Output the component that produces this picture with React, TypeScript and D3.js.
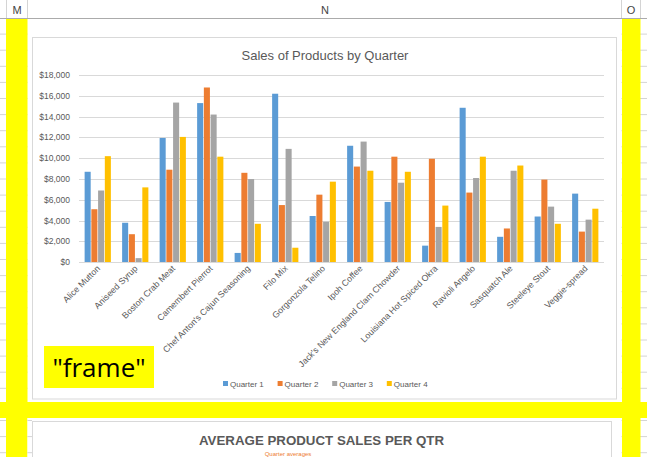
import React from "react";
import * as d3 from "d3";

const categories = [
  "Alice Mutton",
  "Aniseed Syrup",
  "Boston Crab Meat",
  "Camembert Pierrot",
  "Chef Anton's Cajun Seasoning",
  "Filo Mix",
  "Gorgonzola Telino",
  "Ipoh Coffee",
  "Jack's New England Clam Chowder",
  "Louisiana Hot Spiced Okra",
  "Ravioli Angelo",
  "Sasquatch Ale",
  "Steeleye Stout",
  "Veggie-spread",
];
const seriesNames = ["Quarter 1", "Quarter 2", "Quarter 3", "Quarter 4"];
const quarter1 = [8700, 3800, 11950, 15300, 900, 16200, 4450, 11200, 5800, 1600, 14850, 2450, 4400, 6600];
const quarter2 = [5100, 2700, 8900, 16800, 8600, 5500, 6500, 9200, 10150, 9950, 6700, 3250, 7950, 2950];
const quarter3 = [6900, 400, 15350, 14200, 8000, 10900, 3900, 11600, 7650, 3400, 8100, 8800, 5350, 4100];
const quarter4 = [10200, 7200, 12050, 10150, 3700, 1400, 7750, 8800, 8700, 5450, 10150, 9300, 3700, 5150];
const seriesValues = [quarter1, quarter2, quarter3, quarter4];
const yTicks = [0, 2000, 4000, 6000, 8000, 10000, 12000, 14000, 16000, 18000];
const colors = ["#5b9bd5", "#ed7d31", "#a5a5a5", "#ffc000"];

const W = 647;
const H = 457;
const FONT = "'Liberation Sans', Arial, sans-serif";

export default function App() {
  const x0 = d3.scaleBand<string>().domain(categories).range([79, 604]).paddingInner(0.3).paddingOuter(0.15);
  const x1 = d3.scaleBand<string>().domain(seriesNames).range([0, x0.bandwidth()]).paddingInner(0.1);
  const y = d3.scaleLinear().domain([0, 18000]).range([262.3, 75]);
  const fmt = d3.format("$,");

  const rowLines = d3.range(1, 28).map((k) => 18 + 16.1 * k);

  return (
    <svg width={W} height={H} style={{ position: "absolute", left: 0, top: 0, background: "#fff" }}>
      {/* spreadsheet row lines */}
      {rowLines.map((ry, i) => (
        <line key={"r" + i} x1={0} x2={W} y1={ry} y2={ry} stroke="#d4d4d4" strokeWidth={1} />
      ))}
      {/* header */}
      <rect x={0} y={0} width={W} height={18} fill="#fff" />
      <line x1={0} x2={W} y1={18.5} y2={18.5} stroke="#ababab" />
      <line x1={6.5} x2={6.5} y1={0} y2={18} stroke="#d4d4d4" />
      <line x1={27.5} x2={27.5} y1={0} y2={18} stroke="#d4d4d4" />
      <line x1={621.5} x2={621.5} y1={0} y2={18} stroke="#d4d4d4" />
      <line x1={640.5} x2={640.5} y1={0} y2={18} stroke="#d4d4d4" />
      <text x={17} y={14} fontFamily={FONT} fontSize={11} fill="#444" textAnchor="middle">M</text>
      <text x={325} y={14} fontFamily={FONT} fontSize={11} fill="#444" textAnchor="middle">N</text>
      <text x={631} y={14} fontFamily={FONT} fontSize={11} fill="#444" textAnchor="middle">O</text>

      {/* main chart area */}
      <rect x={27.5} y={19} width={594} height={383} fill="#fff" />
      <rect x={32.5} y={37.5} width={584} height={361.5} fill="#fff" stroke="#d9d9d9" />

      <text x={325} y={60} fontFamily={FONT} fontSize={13} fill="#595959" textAnchor="middle">
        Sales of Products by Quarter
      </text>

      {yTicks.map((t) => (
        <g key={"t" + t}>
          {t > 0 && <line x1={79} x2={604} y1={Math.round(y(t)) + 0.5} y2={Math.round(y(t)) + 0.5} stroke="#d9d9d9" />}
          <text x={70} y={y(t) + 3} fontFamily={FONT} fontSize={8.5} fill="#595959" textAnchor="end">
            {fmt(t)}
          </text>
        </g>
      ))}

      {categories.map((c, ci) => (
        <g key={"c" + ci} transform={`translate(${x0(c)},0)`}>
          {seriesNames.map((s, si) => (
            <rect
              key={s}
              x={x1(s)}
              y={y(seriesValues[si][ci])}
              width={x1.bandwidth()}
              height={y(0) - y(seriesValues[si][ci])}
              fill={colors[si]}
            />
          ))}
        </g>
      ))}
      <line x1={79} x2={604} y1={262.5} y2={262.5} stroke="#d9d9d9" />

      {categories.map((c, ci) => {
        const cx = (x0(c) as number) + x0.bandwidth() / 2 + 3;
        return (
          <text
            key={"l" + ci}
            transform={`translate(${cx},${269}) rotate(-45)`}
            fontFamily={FONT}
            fontSize={8.8}
            fill="#595959"
            textAnchor="end"
          >
            {c}
          </text>
        );
      })}

      {/* legend */}
      {seriesNames.map((s, si) => {
        const lx = 223 + si * 54.6;
        return (
          <g key={"lg" + si}>
            <rect x={lx} y={381} width={5} height={5} fill={colors[si]} />
            <text x={lx + 7} y={386.5} fontFamily={FONT} fontSize={8} fill="#595959">
              {s}
            </text>
          </g>
        );
      })}

      {/* frame label */}
      <rect x={44} y={346} width={110} height={42} fill="#ffff00" />
      <text x={99} y={377} fontFamily="'Open Sans', 'Liberation Sans', sans-serif" fontSize={26} fill="#000" textAnchor="middle">
        "frame"
      </text>

      {/* yellow frame bars */}
      <rect x={6} y={19} width={21.5} height={H - 19} fill="#ffff00" />
      <rect x={622} y={19} width={18.5} height={H - 19} fill="#ffff00" />
      <rect x={0} y={402} width={W} height={16} fill="#ffff00" />

      {/* lower chart */}
      <rect x={27.5} y={418} width={594} height={H - 418} fill="#fff" />
      {rowLines.filter((ry) => ry > 418).map((ry, i) => (
        <line key={"rb" + i} x1={27.5} x2={32} y1={ry} y2={ry} stroke="#d4d4d4" />
      ))}
      <rect x={32.5} y={421.5} width={579} height={60} fill="#fff" stroke="#d9d9d9" />
      <text x={321.5} y={445} fontFamily={FONT} fontSize={13.3} fontWeight="bold" fill="#595959" textAnchor="middle">
        AVERAGE PRODUCT SALES PER QTR
      </text>
      <text x={288} y={456} fontFamily={FONT} fontSize={6} fill="#ed7d31" textAnchor="middle">
        Quarter averages
      </text>
    </svg>
  );
}
